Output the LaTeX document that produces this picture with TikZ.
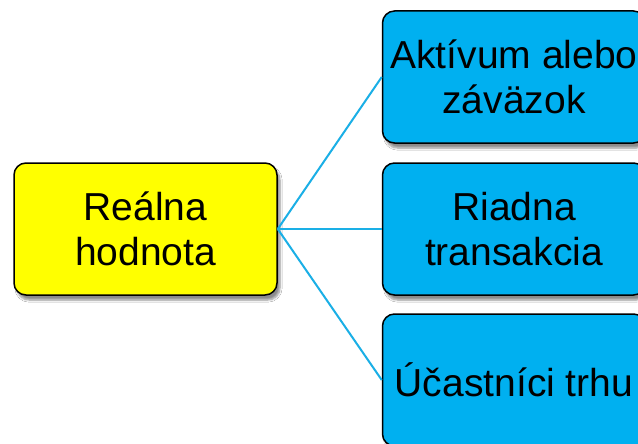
\documentclass[tikz,border=0pt]{standalone}
\usepackage{fontspec}
\setmainfont{Liberation Sans}
\usetikzlibrary{shadows.blur}
\definecolor{boxblue}{HTML}{00B0F0}
\definecolor{linkblue}{HTML}{1AAFE6}
\definecolor{boxyellow}{HTML}{FFFF00}
\begin{document}
\begin{tikzpicture}[x=1pt,y=-1pt,
  box/.style={draw=black, line width=1.5pt, rounded corners=12pt,
    minimum width=263pt, minimum height=132pt, inner sep=0pt,
    align=center, font=\fontsize{39}{45}\selectfont,
    blur shadow={shadow xshift=3pt, shadow yshift=-5pt, shadow blur steps=6, shadow opacity=45}},
  link/.style={draw=linkblue, line width=2pt}]
\useasboundingbox (0,0) rectangle (638,444);
\fill[white] (0,0) rectangle (638,444);
\node[box, fill=boxyellow] (rh) at (145.5,229) {Reálna\\hodnota};
\node[box, fill=boxblue] (a) at (514,77) {Aktívum alebo\\záväzok};
\node[box, fill=boxblue] (b) at (514,229) {Riadna\\transakcia};
\node[box, fill=boxblue] (c) at (514,380) {Účastníci trhu};
\draw[link] (rh.east) -- (a.west);
\draw[link] (rh.east) -- (b.west);
\draw[link] (rh.east) -- (c.west);
\end{tikzpicture}
\end{document}
